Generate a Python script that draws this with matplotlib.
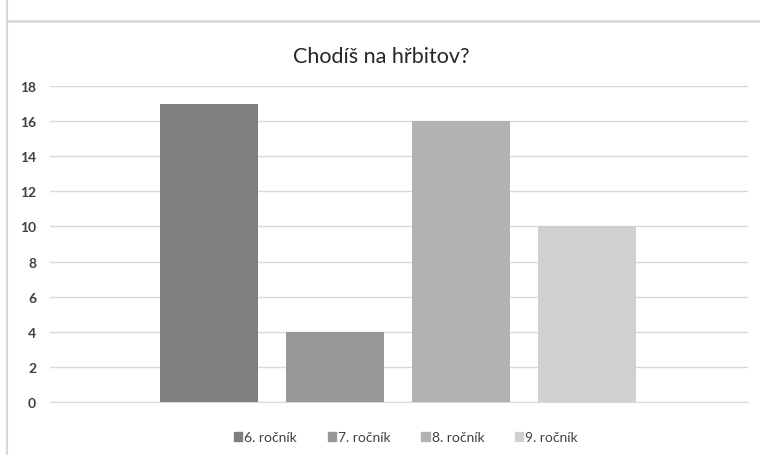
import matplotlib.pyplot as plt
from matplotlib.lines import Line2D
from matplotlib.patches import Patch

# data
series = ['6. ročník', '7. ročník', '8. ročník', '9. ročník']
values = [17, 4, 16, 10]
colors = ['#7f7f7f', '#989898', '#b2b2b2', '#d0d0d0']
yticks = [0, 2, 4, 6, 8, 10, 12, 14, 16, 18]

plt.rcParams['font.family'] = ['Lato', 'DejaVu Sans']

fig = plt.figure(figsize=(7.6, 4.56), dpi=100)
ax = fig.add_axes([50 / 760, 1 - 403 / 456, 698 / 760, 316 / 456])

for i, (name, v, c) in enumerate(zip(series, values, colors)):
    ax.bar(i, v, width=0.778, color=c, label=name, zorder=3)

ax.set_ylim(0, 18)
ax.set_xlim(-1.26, 4.28)
ax.set_yticks(yticks)
ax.set_xticks([])
ax.yaxis.grid(True, color='#d9d9d9', linewidth=1, zorder=0)
for s in ['top', 'right', 'left']:
    ax.spines[s].set_visible(False)
ax.spines['bottom'].set_color('#d9d9d9')
ax.tick_params(axis='y', length=0, pad=10, labelsize=10, labelcolor='#404040')
for lab in ax.get_yticklabels():
    lab.set_fontweight('bold')

fig.text(381 / 760, 1 - 57 / 456, 'Chodíš na hřbitov?', ha='center', va='center',
         fontsize=15.5, color='#262626')

handles = [Patch(color=c, label=n) for n, c in zip(series, colors)]
fig.legend(handles=handles, loc='center', bbox_to_anchor=(406 / 760, 1 - 438 / 456),
           ncol=4, frameon=False, fontsize=10, handlelength=0.6, handleheight=0.6,
           handletextpad=0.15, columnspacing=2.2, labelcolor='#404040')

# frame lines of the surrounding page
fig.add_artist(Line2D([7 / 760, 7 / 760], [0, 1], transform=fig.transFigure,
                      color='#d9d9d9', linewidth=1.5))
fig.add_artist(Line2D([7 / 760, 1], [1 - 22 / 456, 1 - 22 / 456], transform=fig.transFigure,
                      color='#d9d9d9', linewidth=2))

fig.savefig('out.png', dpi=100)
